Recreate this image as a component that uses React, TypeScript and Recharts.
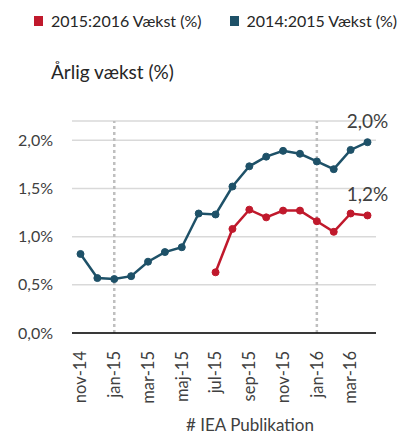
import React from 'react';
import { LineChart, Line, XAxis, YAxis, CartesianGrid, ReferenceLine, LabelList } from 'recharts';

const months = [
  'nov-14', 'dec-14', 'jan-15', 'feb-15', 'mar-15', 'apr-15', 'maj-15', 'jun-15', 'jul-15',
  'aug-15', 'sep-15', 'okt-15', 'nov-15', 'dec-15', 'jan-16', 'feb-16', 'mar-16', 'apr-16',
];
const growth1415 = [0.82, 0.57, 0.56, 0.59, 0.74, 0.84, 0.89, 1.24, 1.23, 1.52, 1.73, 1.83, 1.89, 1.86, 1.78, 1.7, 1.9, 1.98];
const growth1516 = [null, null, null, null, null, null, null, null, 0.63, 1.08, 1.28, 1.2, 1.27, 1.27, 1.16, 1.05, 1.24, 1.22];
const yTicks = [0, 0.5, 1, 1.5, 2];
const yearMarks = ['jan-15', 'jan-16'];

const RED = '#C0192C';
const DARK = '#1E5168';
const FONT = 'Lato, "Open Sans", sans-serif';

const data = months.map((m, i) => ({ month: m, g1415: growth1415[i], g1516: growth1516[i] }));

const pct = (v: number) => v.toFixed(1).replace('.', ',') + '%';

const MonthTick = (props: any) => {
  const { x, y, payload } = props;
  return (
    <text
      x={x}
      y={y}
      transform={`rotate(-90, ${x}, ${y})`}
      textAnchor="end"
      dy="0.35em"
      fill="#404040"
      fontSize={16.5}
      fontFamily={FONT}
    >
      {payload.value}
    </text>
  );
};

const lastLabel = (props: any) => {
  const { x, y, value, index } = props;
  if (index !== months.length - 1 || value == null) return null;
  return (
    <text x={x} y={y - 14} textAnchor="middle" fill="#404040" fontSize={19} fontFamily={FONT}>
      {pct(value)}
    </text>
  );
};

const LegendItem = ({ color, label }: { color: string; label: string }) => (
  <span style={{ display: 'inline-flex', alignItems: 'center' }}>
    <span style={{ width: 9, height: 10, background: color, display: 'inline-block', marginRight: 8 }} />
    {label}
  </span>
);

export default function App() {
  return (
    <div style={{ position: 'absolute', left: 0, top: 0, width: 415, height: 439, background: '#fff', fontFamily: FONT }}>
      <div style={{ position: 'absolute', left: 34, top: 11, fontSize: 16, color: '#262626', display: 'flex', gap: 28, whiteSpace: 'nowrap' }}>
        <LegendItem color={RED} label="2015:2016 Vækst (%)" />
        <LegendItem color={DARK} label="2014:2015 Vækst (%)" />
      </div>
      <div style={{ position: 'absolute', left: 51, top: 60, fontSize: 19, color: '#262626', whiteSpace: 'nowrap' }}>
        Årlig vækst (%)
      </div>
      <LineChart width={415} height={439} data={data} margin={{ top: 121, right: 39, bottom: 0, left: 0 }}>
        <CartesianGrid vertical={false} stroke="#D9D9D9" strokeWidth={1.5} />
        <XAxis
          dataKey="month"
          interval={1}
          padding={{ left: 8.5, right: 8.5 }}
          tickLine={false}
          axisLine={{ stroke: '#000', strokeWidth: 1.5 }}
          tick={<MonthTick />}
          tickMargin={12}
          height={106}
          label={{ value: '# IEA Publikation', position: 'insideBottom', dx: 26, dy: -3, fill: '#404040', fontSize: 17, fontFamily: FONT }}
        />
        <YAxis
          domain={[0, 2.2]}
          ticks={yTicks}
          width={72}
          axisLine={false}
          tickLine={false}
          tickSize={0}
          tickMargin={19}
          tickFormatter={pct}
          tick={{ fill: '#404040', fontSize: 16, fontFamily: FONT }}
        />
        {yearMarks.map((m) => (
          <ReferenceLine key={m} x={m} stroke="#BFBFBF" strokeWidth={2.5} strokeDasharray="3 3" />
        ))}
        <Line
          dataKey="g1415"
          stroke={DARK}
          strokeWidth={2.5}
          dot={{ r: 3.5, fill: DARK, stroke: DARK, strokeWidth: 1 }}
          isAnimationActive={false}
        >
          <LabelList dataKey="g1415" content={lastLabel} />
        </Line>
        <Line
          dataKey="g1516"
          stroke={RED}
          strokeWidth={2.5}
          dot={{ r: 3.5, fill: RED, stroke: RED, strokeWidth: 1 }}
          isAnimationActive={false}
        >
          <LabelList dataKey="g1516" content={lastLabel} />
        </Line>
      </LineChart>
    </div>
  );
}
